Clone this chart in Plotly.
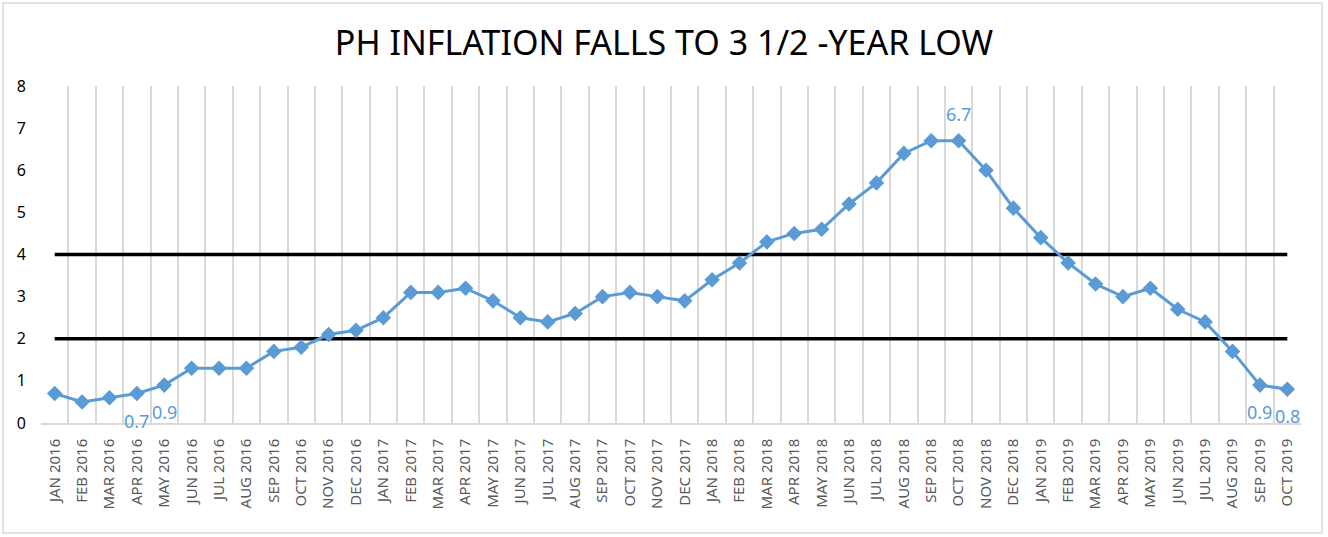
import plotly.graph_objects as go

months = [
    "JAN 2016", "FEB 2016", "MAR 2016", "APR 2016", "MAY 2016", "JUN 2016",
    "JUL 2016", "AUG 2016", "SEP 2016", "OCT 2016", "NOV 2016", "DEC 2016",
    "JAN 2017", "FEB 2017", "MAR 2017", "APR 2017", "MAY 2017", "JUN 2017",
    "JUL 2017", "AUG 2017", "SEP 2017", "OCT 2017", "NOV 2017", "DEC 2017",
    "JAN 2018", "FEB 2018", "MAR 2018", "APR 2018", "MAY 2018", "JUN 2018",
    "JUL 2018", "AUG 2018", "SEP 2018", "OCT 2018", "NOV 2018", "DEC 2018",
    "JAN 2019", "FEB 2019", "MAR 2019", "APR 2019", "MAY 2019", "JUN 2019",
    "JUL 2019", "AUG 2019", "SEP 2019", "OCT 2019",
]
inflation = [
    0.7, 0.5, 0.6, 0.7, 0.9, 1.3, 1.3, 1.3, 1.7, 1.8, 2.1, 2.2,
    2.5, 3.1, 3.1, 3.2, 2.9, 2.5, 2.4, 2.6, 3.0, 3.1, 3.0, 2.9,
    3.4, 3.8, 4.3, 4.5, 4.6, 5.2, 5.7, 6.4, 6.7, 6.7, 6.0, 5.1,
    4.4, 3.8, 3.3, 3.0, 3.2, 2.7, 2.4, 1.7, 0.9, 0.8,
]
target_low = 2
target_high = 4
labels_below = ["APR 2016", "MAY 2016", "SEP 2019", "OCT 2019"]
labels_above = ["OCT 2018"]

BLUE = "#5B9BD5"
GRID = "#D9D9D9"

fig = go.Figure()

for lvl in (target_high, target_low):
    fig.add_trace(go.Scatter(
        x=[months[0], months[-1]], y=[lvl, lvl], mode="lines",
        line=dict(color="black", width=3.5), hoverinfo="skip", showlegend=False,
    ))

fig.add_trace(go.Scatter(
    x=months, y=inflation, mode="lines+markers",
    line=dict(color=BLUE, width=3),
    marker=dict(symbol="diamond", size=12, color=BLUE),
    showlegend=False,
))

annotations = []
for m, v in zip(months, inflation):
    if m in labels_below or m in labels_above:
        annotations.append(dict(
            x=m, y=v, xref="x", yref="y", text=f"{v:.1f}", showarrow=False,
            font=dict(family="Noto Sans", size=18, color=BLUE),
            yshift=-27 if m in labels_below else 27,
        ))

fig.update_layout(
    width=1328, height=537,
    margin=dict(l=41, r=27, t=86, b=114),
    paper_bgcolor="white", plot_bgcolor="white",
    title=dict(
        text="PH INFLATION FALLS TO 3 1/2 -YEAR LOW",
        font=dict(family="Noto Sans", size=34, color="black"),
        x=0.5, xanchor="center", xref="container",
        y=1 - 43 / 537, yanchor="middle", yref="container",
    ),
    annotations=annotations,
    xaxis=dict(
        type="category", categoryorder="array", categoryarray=months,
        range=[-0.5, len(months) - 0.5],
        tickson="boundaries", ticks="", showgrid=True,
        gridcolor=GRID, gridwidth=1.5,
        showline=True, linecolor=GRID, linewidth=1.5,
        tickangle=-90, ticklabelstandoff=8,
        tickfont=dict(family="Noto Sans", size=15, color="#595959"),
        zeroline=False,
    ),
    yaxis=dict(
        range=[0, 8], dtick=1, tick0=0, showgrid=False, zeroline=False,
        showline=False, ticks="", ticklabelstandoff=14,
        tickfont=dict(family="Noto Sans", size=16, color="black"),
    ),
    shapes=[dict(
        type="rect", xref="paper", yref="paper",
        x0=-38 / 1260, x1=1 + 21 / 1260, y0=-110 / 337, y1=1 + 83 / 337,
        line=dict(color=GRID, width=1.5), fillcolor="rgba(0,0,0,0)", layer="below",
    )],
)

fig.write_html(
    "out.html",
    config={"displayModeBar": False},
    post_script="document.body.style.margin='0';",
)
